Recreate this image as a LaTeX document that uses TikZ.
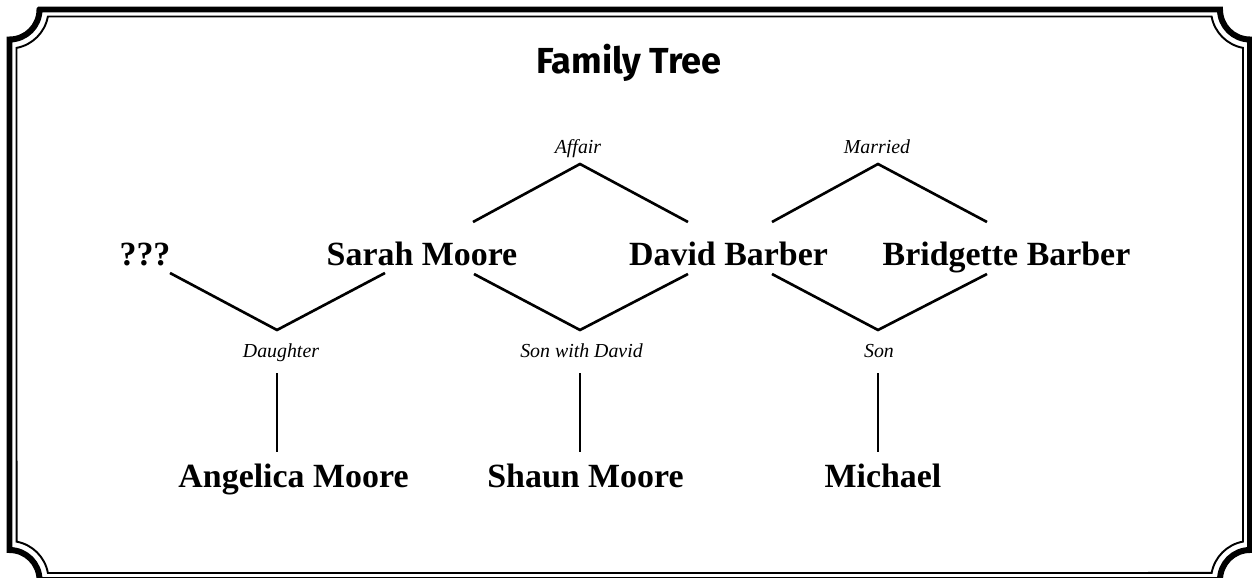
\documentclass[tikz,border=0pt]{standalone}
\usepackage{fontspec}
\setmainfont{Liberation Serif}
\newfontfamily\titlefont{Fira Sans}
\usetikzlibrary{positioning}

\tikzset{
  person/.style={font=\fontsize{19.3}{22}\selectfont\bfseries, inner sep=0pt, anchor=base},
  relation/.style={font=\fontsize{11.3}{13}\selectfont\itshape, inner sep=0pt, anchor=base},
  link/.style={line width=1.5pt},
}

\begin{document}
\begin{tikzpicture}[x=0.02cm, y=-0.02cm]
  \useasboundingbox (0,0) rectangle (1252,578);
  \fill[white] (0,0) rectangle (1252,578);
  \clip (0,0) rectangle (1252,578);

  % frame: heavy outer rule with notched corners
  \draw[line width=3.4pt]
    (39.5,9.5) -- (1220,9.5) arc[start angle=180, end angle=270, radius=0.6cm]
    -- (1250,550) arc[start angle=90, end angle=180, radius=0.6cm]
    -- (39.5,580) arc[start angle=0, end angle=90, radius=0.6cm]
    -- (9.5,39.5) arc[start angle=270, end angle=360, radius=0.6cm] -- cycle;

  % thin inner rule
  \draw[line width=1.1pt]
    (47.9,16.5) -- (1211.6,16.5) arc[start angle=190.34, end angle=259.66, radius=0.78cm]
    -- (1243,541.6) arc[start angle=100.34, end angle=169.66, radius=0.78cm]
    -- (47.9,573) arc[start angle=10.34, end angle=79.66, radius=0.78cm]
    -- (16.5,47.9) arc[start angle=280.34, end angle=349.66, radius=0.78cm] -- cycle;

  \node[anchor=base, inner sep=0pt, font=\titlefont\fontsize{20.6}{24}\selectfont\bfseries]
    (title) at (629,73) {Family Tree};

  % parents
  \node[person] (unknown) at (145,265) {???};
  \node[person] (sarah) at (422,265) {Sarah Moore};
  \node[person] (david) at (728.5,265) {David Barber};
  \node[person] (bridgette) at (1006.5,265) {Bridgette Barber};

  % children
  \node[person] (angelica) at (293.5,487) {Angelica Moore};
  \node[person] (shaun) at (585.5,487) {Shaun Moore};
  \node[person] (michael) at (883,487) {Michael};

  % relations
  \node[relation] (affair) at (578,153) {Affair};
  \node[relation] (married) at (877,153) {Married};
  \node[relation] (daughter) at (281,357) {Daughter};
  \node[relation] (sonwith) at (581.5,357) {Son with David};
  \node[relation] (son) at (879,357) {Son};

  % join points
  \coordinate (affair-top) at (580,164);
  \coordinate (married-top) at (878,164);
  \coordinate (daughter-top) at (277,330);
  \coordinate (sonwith-top) at (580,330);
  \coordinate (son-top) at (878,330);
  \coordinate (unknown-se) at (170,273);
  \coordinate (sarah-ne) at (473,222);
  \coordinate (sarah-sw) at (385,273);
  \coordinate (sarah-se) at (474,274);
  \coordinate (david-nw) at (688,222);
  \coordinate (david-ne) at (772,222);
  \coordinate (david-sw) at (688,274);
  \coordinate (david-se) at (772,274);
  \coordinate (bridgette-nw) at (987,222);
  \coordinate (bridgette-sw) at (987,274);
  \coordinate (daughter-down) at (277,373);
  \coordinate (sonwith-down) at (580,373);
  \coordinate (son-down) at (878,373);
  \coordinate (angelica-up) at (277,452);
  \coordinate (shaun-up) at (580,452);
  \coordinate (michael-up) at (878,452);

  \draw[link] (sarah-ne) -- (affair-top) -- (david-nw);
  \draw[link] (david-ne) -- (married-top) -- (bridgette-nw);

  \draw[link] (unknown-se) -- (daughter-top) -- (sarah-sw);
  \draw[link] (sarah-se) -- (sonwith-top) -- (david-sw);
  \draw[link] (david-se) -- (son-top) -- (bridgette-sw);

  \draw[link] (daughter-down) -- (angelica-up);
  \draw[link] (sonwith-down) -- (shaun-up);
  \draw[link] (son-down) -- (michael-up);
\end{tikzpicture}
\end{document}
